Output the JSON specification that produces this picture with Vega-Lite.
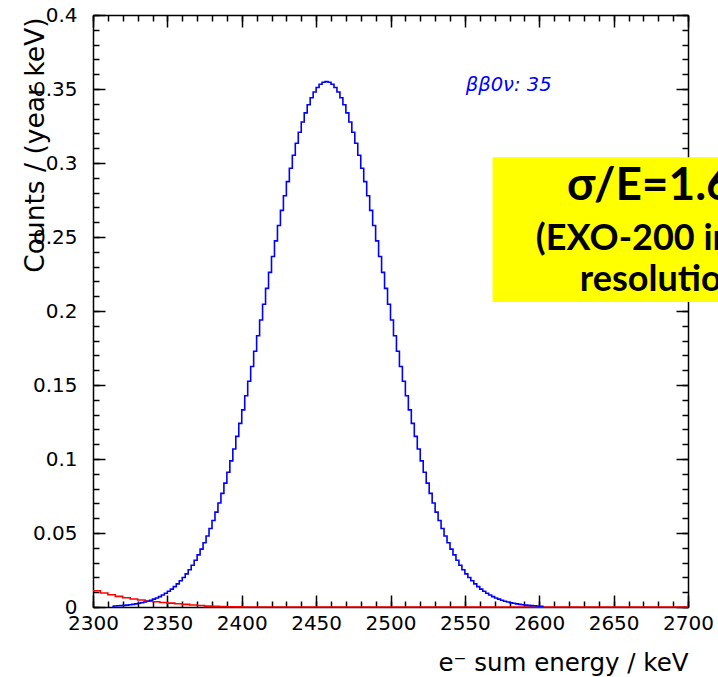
{
  "$schema": "https://vega.github.io/schema/vega-lite/v6.json",
  "width": 595,
  "height": 592,
  "autosize": {"type": "none"},
  "padding": {"left": 93, "top": 15, "right": 30, "bottom": 70},
  "background": "white",
  "config": {"view": {"stroke": null}, "axis": {"grid": false}},
  "datasets": {
    "bb0v": [
      {"e":2313,"c":0.0005},{"e":2315,"c":0.0007},{"e":2317,"c":0.0008},{"e":2319,"c":0.0009},{"e":2321,"c":0.0011},{"e":2323,"c":0.0013},{"e":2325,"c":0.0015},{"e":2327,"c":0.0018},{"e":2329,"c":0.0021},{"e":2331,"c":0.0025},{"e":2333,"c":0.0029},{"e":2335,"c":0.0034},{"e":2337,"c":0.0039},{"e":2339,"c":0.0046},{"e":2341,"c":0.0053},{"e":2343,"c":0.0061},{"e":2345,"c":0.0070},{"e":2347,"c":0.0081},{"e":2349,"c":0.0093},{"e":2351,"c":0.0106},{"e":2353,"c":0.0121},{"e":2355,"c":0.0138},{"e":2357,"c":0.0156},{"e":2359,"c":0.0177},{"e":2361,"c":0.0199},{"e":2363,"c":0.0224},{"e":2365,"c":0.0252},{"e":2367,"c":0.0282},{"e":2369,"c":0.0316},{"e":2371,"c":0.0352},{"e":2373,"c":0.0391},{"e":2375,"c":0.0434},{"e":2377,"c":0.0480},{"e":2379,"c":0.0530},{"e":2381,"c":0.0584},{"e":2383,"c":0.0641},{"e":2385,"c":0.0703},{"e":2387,"c":0.0768},{"e":2389,"c":0.0837},{"e":2391,"c":0.0910},{"e":2393,"c":0.0987},{"e":2395,"c":0.1068},{"e":2397,"c":0.1153},{"e":2399,"c":0.1241},{"e":2401,"c":0.1332},{"e":2403,"c":0.1427},{"e":2405,"c":0.1525},{"e":2407,"c":0.1625},{"e":2409,"c":0.1728},{"e":2411,"c":0.1833},{"e":2413,"c":0.1939},{"e":2415,"c":0.2046},{"e":2417,"c":0.2153},{"e":2419,"c":0.2261},{"e":2421,"c":0.2368},{"e":2423,"c":0.2474},{"e":2425,"c":0.2578},{"e":2427,"c":0.2680},{"e":2429,"c":0.2779},{"e":2431,"c":0.2874},{"e":2433,"c":0.2965},{"e":2435,"c":0.3052},{"e":2437,"c":0.3133},{"e":2439,"c":0.3208},{"e":2441,"c":0.3277},{"e":2443,"c":0.3339},{"e":2445,"c":0.3394},{"e":2447,"c":0.3441},{"e":2449,"c":0.3480},{"e":2451,"c":0.3510},{"e":2453,"c":0.3532},{"e":2455,"c":0.3546},{"e":2457,"c":0.3550},{"e":2459,"c":0.3546},{"e":2461,"c":0.3532},{"e":2463,"c":0.3510},{"e":2465,"c":0.3480},{"e":2467,"c":0.3441},{"e":2469,"c":0.3394},{"e":2471,"c":0.3339},{"e":2473,"c":0.3277},{"e":2475,"c":0.3208},{"e":2477,"c":0.3133},{"e":2479,"c":0.3052},{"e":2481,"c":0.2965},{"e":2483,"c":0.2874},{"e":2485,"c":0.2779},{"e":2487,"c":0.2680},{"e":2489,"c":0.2578},{"e":2491,"c":0.2474},{"e":2493,"c":0.2368},{"e":2495,"c":0.2261},{"e":2497,"c":0.2153},{"e":2499,"c":0.2046},{"e":2501,"c":0.1939},{"e":2503,"c":0.1833},{"e":2505,"c":0.1728},{"e":2507,"c":0.1625},{"e":2509,"c":0.1525},{"e":2511,"c":0.1427},{"e":2513,"c":0.1332},{"e":2515,"c":0.1241},{"e":2517,"c":0.1153},{"e":2519,"c":0.1068},{"e":2521,"c":0.0987},{"e":2523,"c":0.0910},{"e":2525,"c":0.0837},{"e":2527,"c":0.0768},{"e":2529,"c":0.0703},{"e":2531,"c":0.0641},{"e":2533,"c":0.0584},{"e":2535,"c":0.0530},{"e":2537,"c":0.0480},{"e":2539,"c":0.0434},{"e":2541,"c":0.0391},{"e":2543,"c":0.0352},{"e":2545,"c":0.0316},{"e":2547,"c":0.0282},{"e":2549,"c":0.0252},{"e":2551,"c":0.0224},{"e":2553,"c":0.0199},{"e":2555,"c":0.0177},{"e":2557,"c":0.0156},{"e":2559,"c":0.0138},{"e":2561,"c":0.0121},{"e":2563,"c":0.0106},{"e":2565,"c":0.0093},{"e":2567,"c":0.0081},{"e":2569,"c":0.0070},{"e":2571,"c":0.0061},{"e":2573,"c":0.0053},{"e":2575,"c":0.0046},{"e":2577,"c":0.0039},{"e":2579,"c":0.0034},{"e":2581,"c":0.0029},{"e":2583,"c":0.0025},{"e":2585,"c":0.0021},{"e":2587,"c":0.0018},{"e":2589,"c":0.0015},{"e":2591,"c":0.0013},{"e":2593,"c":0.0011},{"e":2595,"c":0.0009},{"e":2597,"c":0.0008},{"e":2599,"c":0.0007},{"e":2601,"c":0.0005},{"e":2603,"c":0.0005}
    ],
    "bkg": [
      {"e":2300,"c":0.0110},{"e":2305,"c":0.0095},{"e":2310,"c":0.0083},{"e":2315,"c":0.0072},{"e":2320,"c":0.0062},{"e":2325,"c":0.0054},{"e":2330,"c":0.0047},{"e":2335,"c":0.0040},{"e":2340,"c":0.0035},{"e":2345,"c":0.0030},{"e":2350,"c":0.0026},{"e":2355,"c":0.0022},{"e":2360,"c":0.0018},{"e":2365,"c":0.0014},{"e":2370,"c":0.0010},{"e":2375,"c":0.0006},{"e":2380,"c":0.0004},{"e":2385,"c":0.0003},{"e":2390,"c":0.0002},{"e":2395,"c":0.0001},{"e":2400,"c":0},{"e":2700,"c":0}
    ],
    "box": [{"e":2568.6,"e2":2790,"c":0.3039,"c2":0.2061}],
    "line1": [{"e":2618.6,"c":0.2750,"t":"σ/E=1.6%"}],
    "line23": [{"e":2597.7,"c":0.2412,"t":"(EXO-200 initial"},{"e":2627.3,"c":0.2135,"t":"resolution)"}],
    "label": [{"e":2550.6,"c":0.3489,"t":"ββ0ν: 35"}]
  },
  "layer": [
    {
      "data": {"name": "box"},
      "mark": {"type": "rect", "fill": "#ffff00", "stroke": null},
      "encoding": {
        "x": {"field": "e", "type": "quantitative", "scale": {"domain": [2300, 2700], "nice": false, "zero": false},
              "axis": {"orient": "bottom", "values": [2300,2310,2320,2330,2340,2350,2360,2370,2380,2390,2400,2410,2420,2430,2440,2450,2460,2470,2480,2490,2500,2510,2520,2530,2540,2550,2560,2570,2580,2590,2600,2610,2620,2630,2640,2650,2660,2670,2680,2690,2700], "labels": false, "domain": false, "tickSize": -6, "tickWidth": 1.5, "tickColor": "#000000", "title": null}},
        "x2": {"field": "e2"},
        "y": {"field": "c", "type": "quantitative", "scale": {"domain": [0, 0.4], "nice": false, "zero": false},
              "axis": {"orient": "left", "values": [0,0.01,0.02,0.03,0.04,0.05,0.06,0.07,0.08,0.09,0.1,0.11,0.12,0.13,0.14,0.15,0.16,0.17,0.18,0.19,0.2,0.21,0.22,0.23,0.24,0.25,0.26,0.27,0.28,0.29,0.3,0.31,0.32,0.33,0.34,0.35,0.36,0.37,0.38,0.39,0.4], "labels": false, "domain": false, "tickSize": -6, "tickWidth": 1.5, "tickColor": "#000000", "title": null}},
        "y2": {"field": "c2"}
      }
    },
    {
      "data": {"name": "bkg"},
      "mark": {"type": "line", "interpolate": "step-after", "color": "#ff0000", "strokeWidth": 1.6},
      "encoding": {
        "x": {"field": "e", "type": "quantitative",
              "axis": {"orient": "bottom", "values": [2300,2350,2400,2450,2500,2550,2600,2650,2700], "labels": false, "domain": false, "tickSize": -12, "tickWidth": 1.5, "tickColor": "#000000", "title": null}},
        "y": {"field": "c", "type": "quantitative",
              "axis": {"orient": "left", "values": [0,0.05,0.1,0.15,0.2,0.25,0.3,0.35,0.4], "labels": false, "domain": false, "tickSize": -12, "tickWidth": 1.5, "tickColor": "#000000", "title": null}}
      }
    },
    {
      "data": {"name": "bb0v"},
      "mark": {"type": "line", "interpolate": "step", "color": "#0000ff", "strokeWidth": 1.6},
      "encoding": {
        "x": {"field": "e", "type": "quantitative",
              "axis": {"orient": "bottom", "values": [2300,2350,2400,2450,2500,2550,2600,2650,2700], "format": "d", "ticks": false, "tickSize": 0, "domain": true, "domainColor": "#000000", "domainWidth": 1.5, "labelFont": "DejaVu Sans", "labelFontSize": 20, "labelColor": "#000000", "labelPadding": 6, "labelFlush": false, "labelOverlap": false, "labelBaseline": "top",
                       "title": "e⁻ sum energy / keV", "titleFont": "DejaVu Sans", "titleFontSize": 24.5, "titleFontWeight": "normal", "titleColor": "#000000", "titleAnchor": "end", "titleAlign": "right", "titleBaseline": "alphabetic", "titleX": 595, "titleY": 63}},
        "y": {"field": "c", "type": "quantitative",
              "axis": {"orient": "left", "values": [0,0.05,0.1,0.15,0.2,0.25,0.3,0.35,0.4], "format": "~g", "ticks": false, "tickSize": 0, "domain": true, "domainColor": "#000000", "domainWidth": 1.5, "labelFont": "DejaVu Sans", "labelFontSize": 20, "labelColor": "#000000", "labelPadding": 16, "labelFlush": false, "labelOverlap": false,
                       "title": "Counts / (year keV)", "titleFont": "DejaVu Sans", "titleFontSize": 26.5, "titleFontWeight": "normal", "titleColor": "#000000", "titleAngle": -90, "titleAnchor": "end", "titleAlign": "right", "titleBaseline": "alphabetic", "titleX": -50, "titleY": 2}}
      }
    },
    {
      "data": {"name": "line1"},
      "mark": {"type": "text", "align": "left", "baseline": "alphabetic", "font": "Lato", "fontWeight": "bold", "fontSize": 46, "color": "#000000"},
      "encoding": {
        "x": {"field": "e", "type": "quantitative",
              "axis": {"orient": "top", "values": [2300,2350,2400,2450,2500,2550,2600,2650,2700], "labels": false, "domain": true, "domainColor": "#000000", "domainWidth": 1.5, "tickSize": -12, "tickWidth": 1.5, "tickColor": "#000000", "title": null}},
        "y": {"field": "c", "type": "quantitative",
              "axis": {"orient": "right", "values": [0,0.05,0.1,0.15,0.2,0.25,0.3,0.35,0.4], "labels": false, "domain": true, "domainColor": "#000000", "domainWidth": 1.5, "tickSize": -12, "tickWidth": 1.5, "tickColor": "#000000", "title": null}},
        "text": {"field": "t"}
      }
    },
    {
      "data": {"name": "line23"},
      "mark": {"type": "text", "align": "left", "baseline": "alphabetic", "font": "Lato", "fontWeight": "bold", "fontSize": 36, "color": "#000000"},
      "encoding": {
        "x": {"field": "e", "type": "quantitative",
              "axis": {"orient": "top", "values": [2300,2310,2320,2330,2340,2350,2360,2370,2380,2390,2400,2410,2420,2430,2440,2450,2460,2470,2480,2490,2500,2510,2520,2530,2540,2550,2560,2570,2580,2590,2600,2610,2620,2630,2640,2650,2660,2670,2680,2690,2700], "labels": false, "domain": false, "tickSize": -6, "tickWidth": 1.5, "tickColor": "#000000", "title": null}},
        "y": {"field": "c", "type": "quantitative",
              "axis": {"orient": "right", "values": [0,0.01,0.02,0.03,0.04,0.05,0.06,0.07,0.08,0.09,0.1,0.11,0.12,0.13,0.14,0.15,0.16,0.17,0.18,0.19,0.2,0.21,0.22,0.23,0.24,0.25,0.26,0.27,0.28,0.29,0.3,0.31,0.32,0.33,0.34,0.35,0.36,0.37,0.38,0.39,0.4], "labels": false, "domain": false, "tickSize": -6, "tickWidth": 1.5, "tickColor": "#000000", "title": null}},
        "text": {"field": "t"}
      }
    },
    {
      "data": {"name": "label"},
      "mark": {"type": "text", "align": "left", "baseline": "alphabetic", "font": "DejaVu Sans", "fontStyle": "italic", "fontSize": 19.5, "color": "#0000ff"},
      "encoding": {
        "x": {"field": "e", "type": "quantitative", "axis": null},
        "y": {"field": "c", "type": "quantitative", "axis": null},
        "text": {"field": "t"}
      }
    }
  ],
  "resolve": {"axis": {"x": "independent", "y": "independent"}}
}
